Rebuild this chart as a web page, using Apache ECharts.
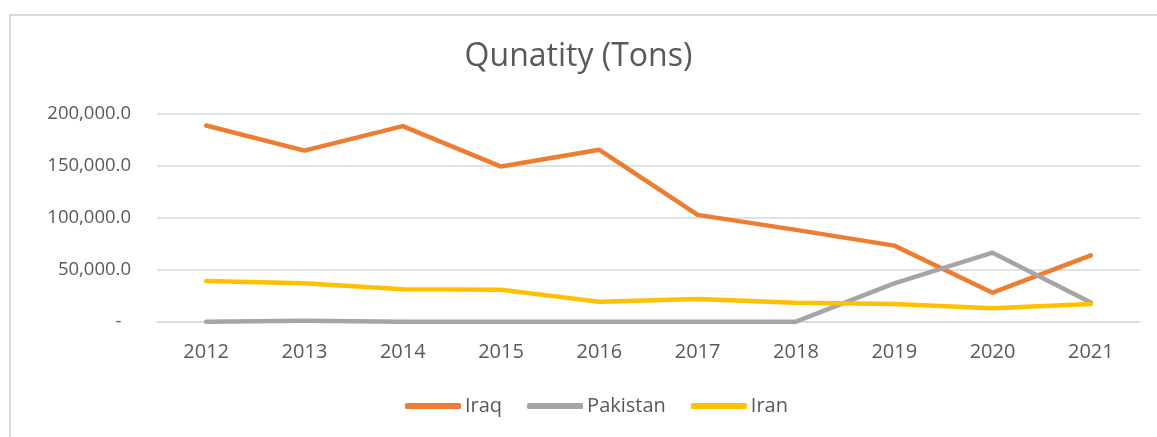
<!DOCTYPE html>
<html>
<head>
<meta charset="utf-8">
<script src="https://cdn.jsdelivr.net/npm/echarts@6/dist/echarts.min.js"></script>
<style>
html,body{margin:0;padding:0;background:#fff;overflow:hidden;}
#frame{position:absolute;left:9px;top:14px;width:1170px;height:440px;border:2px solid #d9d9d9;box-sizing:border-box;}
#chart{position:absolute;left:0;top:0;width:1157px;height:437px;}
</style>
</head>
<body>
<div id="frame"></div>
<div id="chart"></div>
<script>
const categories = ['2012','2013','2014','2015','2016','2017','2018','2019','2020','2021'];
const iraq = [188500, 164400, 187900, 149000, 165100, 102600, 88200, 73100, 27900, 63800];
const pakistan = [0, 1000, 0, 0, 0, 0, 0, 36900, 66300, 18500];
const iran = [39100, 36900, 31100, 30600, 19200, 21800, 18300, 17000, 12900, 17000];

const chart = echarts.init(document.getElementById('chart'), null, {renderer:'canvas'});
const font = 'Open Sans';
function fmt(v){
  if (v === 0) return '-  ';
  return v.toLocaleString('en-US',{minimumFractionDigits:1,maximumFractionDigits:1});
}
function mk(name, data, color){
  return {name, type:'line', data, symbol:'none', smooth:false,
    lineStyle:{color, width:4.5, cap:'round', join:'round'}, itemStyle:{color}};
}
chart.setOption({
  animation:false,
  title:{text:'Qunatity (Tons)', left:'center', top:36,
    textStyle:{fontFamily:font, fontSize:32, fontWeight:'normal', color:'#595959'}},
  grid:{left:157, right:17, top:113.5, bottom:115.3, containLabel:false},
  legend:{bottom:16, left:400, itemWidth:56, itemHeight:6, itemGap:25, icon:'roundRect',
    textStyle:{fontFamily:font, fontSize:20, color:'#595959', padding:[0,0,0,-1]},
    data:['Iraq','Pakistan','Iran']},
  xAxis:{type:'category', data:categories, boundaryGap:true,
    axisLine:{show:true, lineStyle:{color:'#d9d9d9', width:1.5}},
    axisTick:{show:false},
    axisLabel:{fontFamily:font, fontSize:20, color:'#595959', margin:21}},
  yAxis:{type:'value', min:0, max:200000, interval:50000,
    axisLine:{show:false}, axisTick:{show:false},
    splitLine:{lineStyle:{color:'#d9d9d9', width:1.5}},
    axisLabel:{fontFamily:font, fontSize:18.5, color:'#595959', margin:26, formatter:fmt}},
  series:[mk('Iraq', iraq, '#ed7d31'), mk('Pakistan', pakistan, '#a5a5a5'), mk('Iran', iran, '#ffc000')]
});
</script>
</body>
</html>
